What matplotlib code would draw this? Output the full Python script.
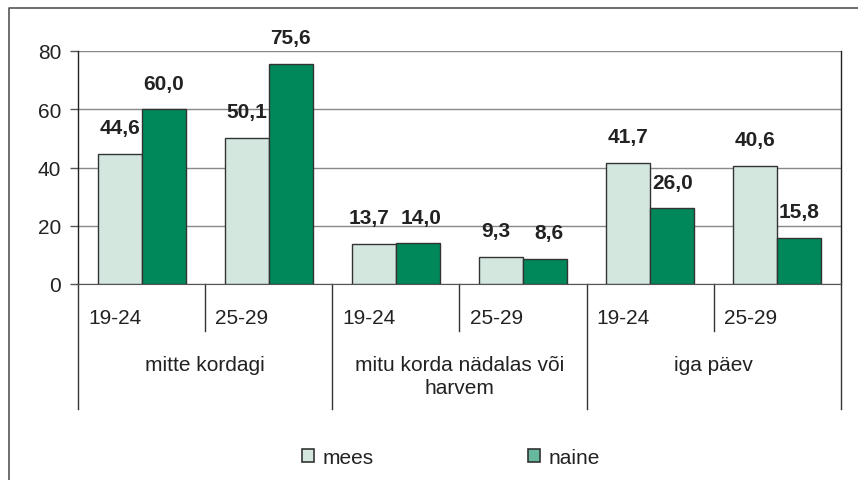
import matplotlib
matplotlib.use("Agg")
import matplotlib.pyplot as plt
import matplotlib.transforms as mtransforms
from matplotlib.patches import Patch
from matplotlib.lines import Line2D

plt.rcParams['font.family'] = ['Liberation Sans', 'DejaVu Sans']

categories = ["mitte kordagi", "mitu korda nädalas või\nharvem", "iga päev"]
ages = ["19-24", "25-29", "19-24", "25-29", "19-24", "25-29"]
mees = [44.6, 50.1, 13.7, 9.3, 41.7, 40.6]
naine = [60.0, 75.6, 14.0, 8.6, 26.0, 15.8]
series_names = ["mees", "naine"]
yticks = [0, 20, 40, 60, 80]

c_mees = "#D3E7DF"
c_naine = "#00875A"
c_naine_leg = "#66B89F"
edge = "#333333"

W, H = 858, 481
fig = plt.figure(figsize=(W / 100, H / 100), dpi=100)
ax = fig.add_axes([78 / W, 1 - 285 / H, (841 - 78) / W, (285 - 52) / H])

n = len(ages)
x = list(range(n))
bw = 0.346
b1 = ax.bar([i - bw / 2 for i in x], mees, bw, color=c_mees, edgecolor=edge, linewidth=1, zorder=3)
b2 = ax.bar([i + bw / 2 for i in x], naine, bw, color=c_naine, edgecolor=edge, linewidth=1, zorder=3)

for k, (bars, vals) in enumerate(((b1, mees), (b2, naine))):
    for i, (rect, v) in enumerate(zip(bars, vals)):
        other = naine[i] if k == 0 else mees[i]
        dx = 0
        if abs(other - v) < 5:  # keep neighbouring labels apart
            dx = -3.5 if k == 0 else 2.5
        ax.annotate(f"{v:.1f}".replace(".", ","),
                    (rect.get_x() + rect.get_width() / 2, v),
                    xytext=(dx, 12), textcoords="offset points",
                    ha="center", va="bottom", fontsize=15, fontweight="bold",
                    color="#222222")

ax.set_xlim(-0.5, n - 0.5)
ax.set_ylim(0, 80)
ax.set_yticks(yticks)
ax.set_yticklabels([str(t) for t in yticks], fontsize=15, color="#222222")
ax.tick_params(axis="y", length=6, width=1, color="#555555", pad=6)
ax.set_xticks([])
ax.yaxis.grid(True, color="#888888", linewidth=1, zorder=0)
ax.set_axisbelow(True)

for s in ("left", "right"):
    ax.spines[s].set_color("#222222")
    ax.spines[s].set_linewidth(1)
ax.spines["top"].set_visible(False)
ax.spines["bottom"].set_color("#555555")

trans = mtransforms.blended_transform_factory(ax.transData, ax.transAxes)
y_short = (285 - 332) / (285 - 52)
y_long = (285 - 410) / (285 - 52)

# short separators between age groups within a category
for xs in (0.5, 2.5, 4.5):
    ax.plot([xs, xs], [0, y_short], transform=trans, color="#333333", lw=1, clip_on=False)
# long separators between categories
for xs in (-0.5, 1.5, 3.5, 5.5):
    ax.plot([xs, xs], [0, y_long], transform=trans, color="#333333", lw=1, clip_on=False)

y_age = (285 - 319) / (285 - 52)
for i, a in enumerate(ages):
    ax.text(i - 0.5 + 0.08, y_age, a, transform=trans, ha="left", va="center",
            fontsize=15, color="#222222")

y_cat = (285 - 356) / (285 - 52)
for j, c in enumerate(categories):
    ax.text(2 * j + 0.5, y_cat, c, transform=trans, ha="center", va="top",
            fontsize=15, color="#222222", linespacing=1.25)

handles = [Patch(facecolor=c_mees, edgecolor=edge, linewidth=1.2),
           Patch(facecolor=c_naine_leg, edgecolor=edge, linewidth=1.2)]
fig.legend(handles, series_names, loc="center", bbox_to_anchor=(451 / W, 1 - 458 / H),
           ncol=2, frameon=False, fontsize=15, handlelength=0.6, handleheight=0.6,
           handletextpad=0.4, columnspacing=7.4, labelcolor="#222222")

# outer frame (top and left visible)
fig.add_artist(Line2D([9 / W, 9 / W, 1.0], [0.0, 1 - 9 / H, 1 - 9 / H],
                      transform=fig.transFigure, color="#555555", lw=1.2))

fig.savefig("out.png", dpi=100)
